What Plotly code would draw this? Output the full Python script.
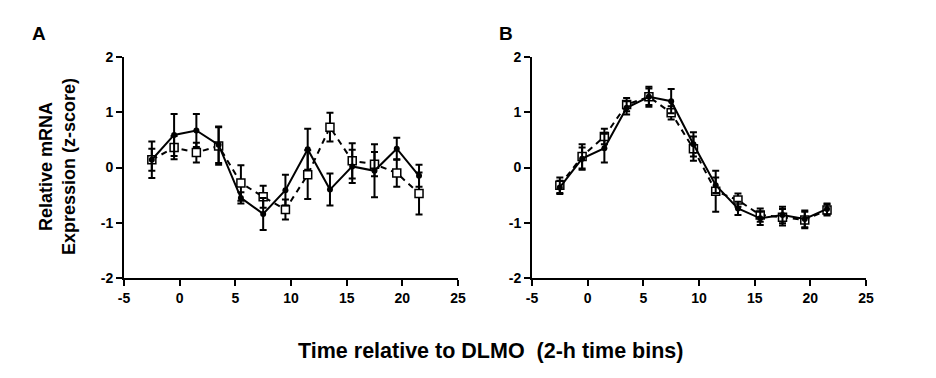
import plotly.graph_objects as go

time_bins = [-2.5, -0.5, 1.5, 3.5, 5.5, 7.5, 9.5, 11.5, 13.5, 15.5, 17.5, 19.5, 21.5]

a_solid = [0.14, 0.59, 0.67, 0.41, -0.55, -0.84, -0.41, 0.33, -0.40, 0.02, -0.06, 0.34, -0.15]
a_solid_err = [0.33, 0.38, 0.30, 0.33, 0.10, 0.29, 0.28, 0.37, 0.29, 0.30, 0.48, 0.20, 0.20]
a_open = [0.14, 0.36, 0.27, 0.39, -0.28, -0.53, -0.76, -0.13, 0.73, 0.12, 0.06, -0.10, -0.47]
a_open_err = [0.20, 0.21, 0.18, 0.34, 0.32, 0.20, 0.18, 0.44, 0.26, 0.32, 0.22, 0.25, 0.38]

b_solid = [-0.36, 0.16, 0.35, 1.08, 1.28, 1.20, 0.42, -0.32, -0.74, -0.92, -0.86, -0.93, -0.75]
b_solid_err = [0.12, 0.20, 0.26, 0.12, 0.18, 0.22, 0.22, 0.14, 0.12, 0.12, 0.15, 0.15, 0.10]
b_open = [-0.32, 0.20, 0.56, 1.14, 1.28, 0.99, 0.34, -0.43, -0.59, -0.86, -0.90, -0.95, -0.77]
b_open_err = [0.14, 0.22, 0.14, 0.12, 0.15, 0.12, 0.22, 0.37, 0.12, 0.12, 0.15, 0.15, 0.10]

x_ticks = [-5, 0, 5, 10, 15, 20, 25]
x_tick_labels = ["-5", "0", "5", "10", "15", "20", "25"]
y_ticks = [-2, -1, 0, 1, 2]
y_tick_labels = ["-2", "-1", "0", "1", "2"]

FONT = "Liberation Sans, Arial, sans-serif"
W, H = 936, 378

fig = go.Figure()

def add_pair(xa, ya, open_vals, open_err, solid_vals, solid_err):
    fig.add_trace(go.Scatter(
        x=time_bins, y=open_vals, xaxis=xa, yaxis=ya, mode="lines+markers",
        line=dict(color="black", width=2, dash="6px,5px"),
        marker=dict(symbol="square", size=8, color="white", line=dict(color="black", width=1.5)),
        error_y=dict(type="data", array=open_err, color="black", thickness=2, width=3.5),
        showlegend=False))
    fig.add_trace(go.Scatter(
        x=time_bins, y=solid_vals, xaxis=xa, yaxis=ya, mode="lines+markers",
        line=dict(color="black", width=2),
        marker=dict(symbol="circle", size=6, color="black"),
        error_y=dict(type="data", array=solid_err, color="black", thickness=2, width=3.5),
        showlegend=False))

add_pair("x", "y", a_open, a_open_err, a_solid, a_solid_err)
add_pair("x2", "y2", b_open, b_open_err, b_solid, b_solid_err)

ydom = [1 - 278 / H, 1 - 57 / H]
axis_common = dict(showline=True, linecolor="black", linewidth=2, ticks="outside",
                   ticklen=6, tickwidth=2, tickcolor="black", showgrid=False, zeroline=False,
                   tickfont=dict(family=FONT, size=14, color="black", weight="bold"))

def ann(text, cx, cy, size, angle=0):
    return dict(text=text, x=cx / W, y=1 - cy / H, xref="paper", yref="paper",
                xanchor="center", yanchor="middle", showarrow=False, textangle=angle,
                font=dict(family=FONT, size=size, color="black", weight="bold"))

fig.update_layout(
    width=W, height=H, margin=dict(l=0, r=0, t=0, b=0, autoexpand=False),
    paper_bgcolor="white", plot_bgcolor="white",
    xaxis=dict(domain=[124 / W, 458 / W], range=[-5, 25], tickvals=x_ticks, ticktext=x_tick_labels,
               anchor="y", **axis_common),
    yaxis=dict(domain=ydom, range=[-2, 2], tickvals=y_ticks, ticktext=y_tick_labels,
               anchor="x", **axis_common),
    xaxis2=dict(domain=[532 / W, 866 / W], range=[-5, 25], tickvals=x_ticks, ticktext=x_tick_labels,
                anchor="y2", **axis_common),
    yaxis2=dict(domain=ydom, range=[-2, 2], tickvals=y_ticks, ticktext=y_tick_labels,
                anchor="x2", **axis_common),
    annotations=[
        ann("A", 38.5, 33, 19),
        ann("B", 506.5, 33, 19),
        ann("Relative mRNA<br>Expression (z-score)", 57, 167, 18, -90),
        ann("Time relative to DLMO&nbsp;&nbsp;(2-h time bins)", 490.5, 351, 21.5),
    ],
)

fig.write_html("out.html", config={"displayModeBar": False},
               post_script="document.body.style.margin='0';")
